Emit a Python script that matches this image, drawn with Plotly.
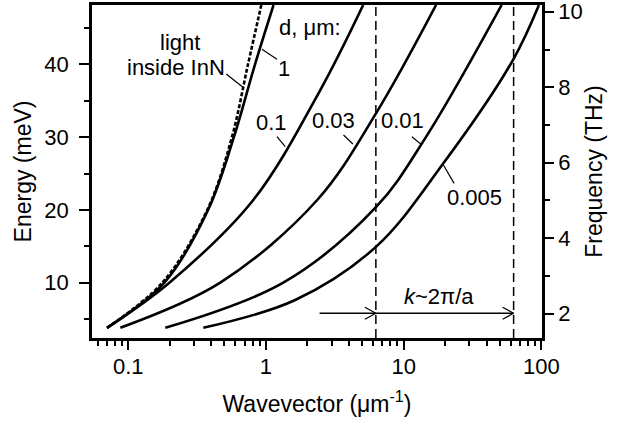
import math
import plotly.graph_objects as go

# ---------------- data ----------------
# wavevector k (1/um) and energy E (meV) along each curve
light_k = [0.0702, 0.1768, 0.375, 0.566, 0.741, 0.925]
light_E = [3.8, 10.0, 20.0, 30.0, 40.0, 48.15]

d1_k = [0.0702, 0.183, 0.38, 0.585, 0.833, 1.135]
d1_E = [3.8, 10.0, 20.0, 30.0, 40.0, 48.15]

d01_k = [0.0702, 0.199, 0.809, 2.48, 5.08]
d01_E = [3.8, 10.0, 21.36, 36.47, 48.15]

d003_k = [0.0877, 0.466, 2.356, 6.31, 17.18]
d003_E = [3.8, 10.0, 21.36, 33.3, 48.15]

d001_k = [0.186, 1.335, 6.31, 14.5, 51.4]
d001_E = [3.8, 10.0, 20.4, 30.0, 48.15]

d0005_k = [0.351, 1.631, 6.31, 19.41, 62.1, 95.9]
d0005_E = [3.8, 7.62, 14.95, 26.4, 40.59, 48.15]

# k ~ 2*pi/a markers
k_marks = [6.28, 62.8]
arrow_start_k = 2.45
arrow_E = 5.8

# axis ticks
x_ticks = [0.1, 1, 10, 100]
x_ticktext = ["0.1", "1", "10", "100"]
x_minor = [0.06, 0.07, 0.08, 0.09] + [m * 0.1 for m in range(2, 10)] + \
          [float(m) for m in range(2, 10)] + [m * 10.0 for m in range(2, 10)]
y_ticks = [10, 20, 30, 40]
y_minor = [5, 15, 25, 35, 45]
y2_ticks = [2, 4, 6, 8, 10]
y2_minor = [3, 5, 7, 9]

# curve labels: (text, k, E, xanchor)
labels = [
    ("light", 0.236, 43.0, "center"),
    ("inside InN", 0.222, 39.6, "center"),
    ("d, μm:", 1.208, 45.1, "left"),
    ("1", 1.352, 39.45, "center"),
    ("0.1", 1.098, 32.0, "center"),
    ("0.03", 3.09, 32.27, "center"),
    ("0.01", 9.82, 32.27, "center"),
    ("0.005", 32.5, 21.73, "center"),
]
# leader lines: (k0, E0, k1, E1)
leaders = [
    (0.515, 38.67, 0.681, 36.84),
    (0.935, 42.06, 1.202, 40.69),
    (1.202, 30.05, 1.380, 28.68),
    (3.656, 30.29, 4.276, 29.06),
    (11.46, 30.05, 13.30, 29.05),
    (19.41, 26.17, 23.23, 23.65),
]

# ---------------- layout constants ----------------
W, H = 623, 424
ML, MR, MT, MB = 92, 81, 5, 86
X_RANGE = [math.log10(0.0546), 2.004]
Y_RANGE = [2.40, 48.15]
Y2_RANGE = [1.353, 10.18]
PX_PER_DEC = (W - ML - MR) / (X_RANGE[1] - X_RANGE[0])
PX_PER_MEV = (H - MT - MB) / (Y_RANGE[1] - Y_RANGE[0])

FONT = "Liberation Sans, Arial, Helvetica, sans-serif"
CURVE_W = 2.6

fig = go.Figure()

def curve(k, E, dash="solid", width=CURVE_W):
    fig.add_trace(go.Scatter(x=k, y=E, mode="lines",
                             line=dict(color="black", width=width, dash=dash,
                                       shape="spline", smoothing=1.0),
                             hoverinfo="skip", showlegend=False))

curve(d1_k, d1_E)
curve(d01_k, d01_E)
curve(d003_k, d003_E)
curve(d001_k, d001_E)
curve(d0005_k, d0005_E)
curve(light_k, light_E, dash="4px,2px", width=2.6)

# leader lines
for k0, e0, k1, e1 in leaders:
    fig.add_trace(go.Scatter(x=[k0, k1], y=[e0, e1], mode="lines",
                             line=dict(color="black", width=1.2),
                             hoverinfo="skip", showlegend=False))

# vertical dashed lines at k ~ 2pi/a (shape x given in data units)
shapes = []
for km in k_marks:
    shapes.append(dict(type="line", xref="x", yref="paper",
                       x0=km, x1=km, y0=0, y1=1,
                       line=dict(color="black", width=1.5, dash="9px,5px")))

# horizontal arrow line
fig.add_trace(go.Scatter(x=[arrow_start_k, k_marks[1]], y=[arrow_E, arrow_E], mode="lines",
                         line=dict(color="black", width=1.3),
                         hoverinfo="skip", showlegend=False))
# open chevron arrowheads
back = 11 / PX_PER_DEC
half = 6 / PX_PER_MEV
for km in k_marks:
    lk = math.log10(km)
    fig.add_trace(go.Scatter(x=[10 ** (lk - back), km, 10 ** (lk - back)],
                             y=[arrow_E + half, arrow_E, arrow_E - half], mode="lines",
                             line=dict(color="black", width=1.3),
                             hoverinfo="skip", showlegend=False))

# dummy trace for right axis
fig.add_trace(go.Scatter(x=[None], y=[None], yaxis="y2", mode="lines",
                         hoverinfo="skip", showlegend=False))

annotations = []
for text, k, E, xa in labels:
    annotations.append(dict(text=text, x=math.log10(k), y=E, xref="x", yref="y",
                            xanchor=xa, yanchor="middle", showarrow=False,
                            font=dict(size=22, family=FONT, color="black")))
annotations.append(dict(text="<i>k</i>~2π/a", x=math.log10(18.07), y=8.13,
                        xref="x", yref="y", xanchor="center", yanchor="middle",
                        showarrow=False, font=dict(size=22, family=FONT, color="black")))

axis_common = dict(showline=True, linewidth=2.5, linecolor="black", showgrid=False,
                   zeroline=False, ticks="outside", tickwidth=2, tickcolor="black",
                   automargin=False, ticklabeloverflow="allow",
                   tickfont=dict(size=22, family=FONT, color="black"))

fig.update_layout(
    width=W, height=H,
    margin=dict(l=ML, r=MR, t=MT, b=MB, autoexpand=False),
    plot_bgcolor="white", paper_bgcolor="white",
    showlegend=False,
    font=dict(family=FONT, color="black", size=22),
    shapes=shapes,
    annotations=annotations,
    xaxis=dict(type="log", range=X_RANGE, tickmode="array", tickvals=x_ticks,
               ticktext=x_ticktext, ticklen=9, mirror=True, ticklabelstandoff=-2,
               minor=dict(tickmode="array", tickvals=x_minor, ticks="outside", ticklen=5,
                          tickwidth=1.5, tickcolor="black", showgrid=False),
               title=dict(text="Wavevector (μm<sup>-1</sup>)", font=dict(size=23, family=FONT),
                          standoff=18),
               **axis_common),
    yaxis=dict(range=Y_RANGE, tickmode="array", tickvals=y_ticks, ticklen=10, mirror=True,
               ticklabelstandoff=6,
               minor=dict(tickmode="array", tickvals=y_minor, ticks="outside", ticklen=5,
                          tickwidth=1.5, tickcolor="black", showgrid=False),
               title=dict(text="Energy (meV)", font=dict(size=23, family=FONT), standoff=7),
               **axis_common),
    yaxis2=dict(overlaying="y", side="right", range=Y2_RANGE, tickmode="array",
                tickvals=y2_ticks, ticklen=9,
                minor=dict(tickmode="array", tickvals=y2_minor, ticks="outside", ticklen=5,
                           tickwidth=1.5, tickcolor="black", showgrid=False),
                title=dict(text="Frequency (THz)", font=dict(size=23, family=FONT), standoff=5),
                **axis_common),
)

fig.write_html("out.html", config={"displayModeBar": False},
               post_script="document.body.style.margin='0';")
